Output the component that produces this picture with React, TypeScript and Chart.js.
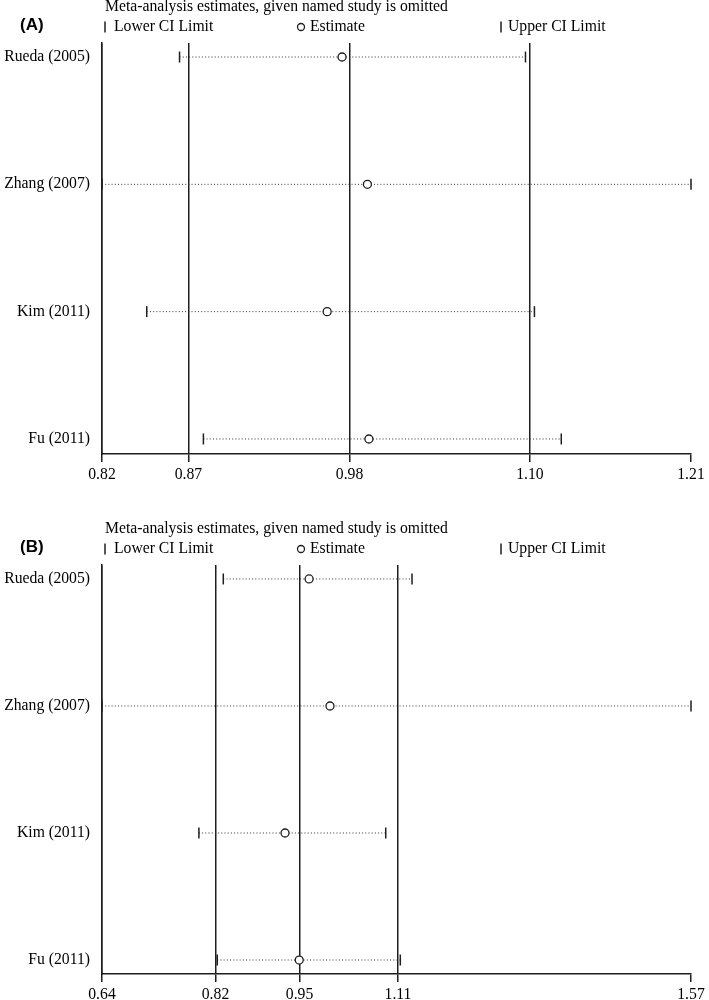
import React, { useEffect, useRef } from 'react';
import { Chart, registerables } from 'chart.js';

Chart.register(...registerables);

// ---------- data ----------
const studies = ['Rueda (2005)', 'Zhang (2007)', 'Kim (2011)', 'Fu (2011)'];

// Panel A
const lowerA = [0.867, 0.815, 0.845, 0.883];
const estimateA = [0.976, 0.993, 0.966, 0.994];
const upperA = [1.099, 1.21, 1.105, 1.123];
const tickValuesA = [0.815, 0.873, 0.981, 1.102, 1.21];
const tickLabelsA = ['0.82', '0.87', '0.98', '1.10', '1.21'];

// Panel B
const lowerB = [0.8315, 0.64, 0.793, 0.822];
const estimateB = [0.967, 1.0, 0.929, 0.9514];
const upperB = [1.1295, 1.57, 1.088, 1.111];
const tickValuesB = [0.64, 0.8192, 0.9519, 1.1074, 1.57];
const tickLabelsB = ['0.64', '0.82', '0.95', '1.11', '1.57'];

const titleText = 'Meta-analysis estimates, given named study is omitted';
const legendLabels = ['Lower CI Limit', 'Estimate', 'Upper CI Limit'];

const SERIF = '"Liberation Serif", "Times New Roman", serif';
const INK = '#1e1e1e';
const TEXT = '#000';
const FONT_SIZE = 15.7;

const headerPlugin = {
  id: 'header',
  afterDraw(chart: any, _args: any, opts: any) {
    const { ctx, chartArea } = chart;
    const left = chartArea.left;
    ctx.save();
    ctx.fillStyle = TEXT;
    ctx.strokeStyle = INK;
    ctx.textBaseline = 'middle';
    ctx.textAlign = 'left';
    ctx.font = 'bold 17px "Liberation Sans", Arial, sans-serif';
    ctx.fillText(opts.letter, 20, opts.legendY - 2);
    ctx.font = FONT_SIZE + 'px ' + SERIF;
    ctx.fillText(titleText, left + 3, opts.titleY);
    const y = opts.legendY;
    // lower CI marker
    ctx.lineWidth = 1.5;
    ctx.beginPath();
    ctx.moveTo(left + 3, y - 5.5);
    ctx.lineTo(left + 3, y + 5.5);
    ctx.stroke();
    ctx.fillText(legendLabels[0], left + 12, y);
    // estimate marker
    ctx.lineWidth = 1.3;
    ctx.beginPath();
    ctx.arc(left + 199, y, 3.5, 0, Math.PI * 2);
    ctx.stroke();
    ctx.fillText(legendLabels[1], left + 208, y);
    // upper CI marker
    ctx.lineWidth = 1.5;
    ctx.beginPath();
    ctx.moveTo(left + 399, y - 5.5);
    ctx.lineTo(left + 399, y + 5.5);
    ctx.stroke();
    ctx.fillText(legendLabels[2], left + 406, y);
    ctx.restore();
  },
};

type Panel = {
  letter: string;
  lower: number[];
  estimate: number[];
  upper: number[];
  tickValues: number[];
  tickLabels: string[];
  top: number;
  xAxisHeight: number;
  yMin: number;
  yMax: number;
  titleY: number;
  legendY: number;
};

function buildConfig(p: Panel): any {
  const datasets: any[] = [];
  datasets.push({
    label: 'Estimate',
    data: studies.map((_, i) => ({ x: p.estimate[i], y: i })),
    pointStyle: 'circle',
    pointRadius: 4,
    pointHoverRadius: 4,
    pointBackgroundColor: '#fff',
    pointBorderColor: INK,
    pointBorderWidth: 1.3,
    showLine: false,
    clip: false,
  });
  datasets.push({
    label: 'CI limits',
    data: studies.flatMap((_, i) => [
      { x: p.lower[i], y: i },
      { x: p.upper[i], y: i },
    ]),
    pointStyle: 'line',
    pointRotation: 90,
    pointRadius: 5.5,
    pointHoverRadius: 5.5,
    pointBorderColor: INK,
    pointBorderWidth: 1.5,
    showLine: false,
    clip: false,
  });
  studies.forEach((s, i) => {
    datasets.push({
      label: s,
      data: [
        { x: p.lower[i], y: i },
        { x: p.upper[i], y: i },
      ],
      showLine: true,
      borderColor: '#333',
      borderWidth: 1,
      borderDash: [1, 2.2],
      pointRadius: 0,
      pointHoverRadius: 0,
      clip: false,
    });
  });

  const font = { family: SERIF, size: FONT_SIZE };
  return {
    type: 'scatter',
    data: { datasets },
    plugins: [headerPlugin],
    options: {
      responsive: false,
      animation: false,
      devicePixelRatio: 1,
      events: [],
      layout: { padding: { top: p.top, left: 0, right: 18, bottom: 0 } },
      plugins: {
        legend: { display: false },
        tooltip: { enabled: false },
        title: { display: false },
        header: { letter: p.letter, titleY: p.titleY, legendY: p.legendY },
      },
      scales: {
        x: {
          type: 'linear',
          min: p.tickValues[0],
          max: p.tickValues[p.tickValues.length - 1],
          afterBuildTicks: (sc: any) => {
            sc.ticks = p.tickValues.map((v) => ({ value: v }));
          },
          afterFit: (sc: any) => {
            sc.height = p.xAxisHeight;
          },
          ticks: {
            autoSkip: false,
            maxRotation: 0,
            padding: 3,
            color: TEXT,
            font,
            callback: (_v: any, i: number) => p.tickLabels[i],
          },
          grid: {
            color: (c: any) => (c.index === p.tickValues.length - 1 ? 'rgba(0,0,0,0)' : INK),
            lineWidth: 1.5,
            tickColor: INK,
            tickLength: 8,
            drawOnChartArea: true,
          },
          border: { display: true, color: INK, width: 1.5 },
        },
        y: {
          type: 'linear',
          reverse: true,
          min: p.yMin,
          max: p.yMax,
          afterBuildTicks: (sc: any) => {
            sc.ticks = studies.map((_, i) => ({ value: i }));
          },
          afterFit: (sc: any) => {
            sc.width = 102;
          },
          ticks: {
            padding: 12,
            color: TEXT,
            font,
            callback: (_v: any, i: number) => studies[i],
          },
          grid: { drawOnChartArea: false, drawTicks: false },
          border: { display: true, color: INK, width: 1.5 },
        },
      },
    },
  };
}

const panelA: Panel = {
  letter: '(A)',
  lower: lowerA,
  estimate: estimateA,
  upper: upperA,
  tickValues: tickValuesA,
  tickLabels: tickLabelsA,
  top: 43,
  xAxisHeight: 46,
  yMin: -0.11,
  yMax: 3.118,
  titleY: 7,
  legendY: 27,
};

const panelB: Panel = {
  letter: '(B)',
  lower: lowerB,
  estimate: estimateB,
  upper: upperB,
  tickValues: tickValuesB,
  tickLabels: tickLabelsB,
  top: 65,
  xAxisHeight: 26,
  yMin: -0.11,
  yMax: 3.11,
  titleY: 29,
  legendY: 49,
};

function ForestPanel({ panel }: { panel: Panel }) {
  const ref = useRef<HTMLCanvasElement | null>(null);
  useEffect(() => {
    if (!ref.current) return;
    const chart = new Chart(ref.current, buildConfig(panel));
    return () => chart.destroy();
  }, [panel]);
  return <canvas ref={ref} width={709} height={500} style={{ display: 'block', width: 709, height: 500 }} />;
}

export default function App() {
  if (typeof document !== 'undefined') document.body.style.margin = '0';
  return (
    <div style={{ width: 709, height: 1000, background: '#fff', overflow: 'hidden' }}>
      <ForestPanel panel={panelA} />
      <ForestPanel panel={panelB} />
    </div>
  );
}
